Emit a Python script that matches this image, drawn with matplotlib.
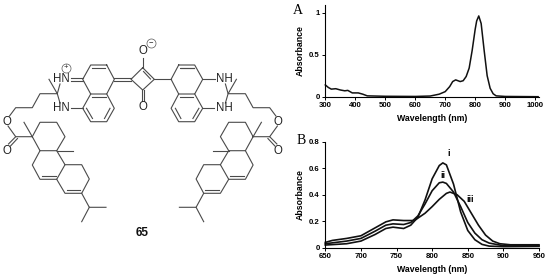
from matplotlib import pyplot as plt

plt.rcParams['font.family'] = ['Liberation Sans', 'DejaVu Sans']
plt.rcParams['lines.solid_joinstyle'] = 'round'

# panel A spectrum
wave_a = [300, 310, 320, 335, 350, 365, 375, 390, 410, 425, 440, 500, 600, 650, 680, 700, 715, 725, 735,
          750, 760, 770, 780, 790, 800, 805, 812, 820, 830, 840, 850, 860, 870, 900, 1010]
abs_a = [0.14, 0.11, 0.09, 0.095, 0.08, 0.07, 0.075, 0.045, 0.045, 0.03, 0.01, 0.005, 0.003, 0.008, 0.03, 0.06, 0.12, 0.18, 0.2,
         0.18, 0.19, 0.24, 0.34, 0.55, 0.8, 0.9, 0.96, 0.87, 0.55, 0.25, 0.1, 0.035, 0.01, 0.003, 0.0]

# panel B spectra
wave_i = [650, 680, 700, 720, 735, 745, 760, 770, 780, 790, 800, 810, 815, 820, 830, 840, 850, 860, 870, 880, 900, 950]
abs_i = [0.02, 0.03, 0.05, 0.10, 0.145, 0.155, 0.145, 0.17, 0.23, 0.36, 0.52, 0.62, 0.64, 0.625, 0.48, 0.27, 0.13, 0.06, 0.025, 0.012, 0.008, 0.01]
wave_ii = [650, 680, 700, 720, 735, 745, 760, 770, 780, 790, 800, 810, 815, 820, 830, 840, 850, 860, 870, 880, 900, 950]
abs_ii = [0.03, 0.05, 0.07, 0.125, 0.17, 0.18, 0.175, 0.19, 0.24, 0.33, 0.43, 0.49, 0.495, 0.485, 0.42, 0.31, 0.19, 0.11, 0.06, 0.035, 0.015, 0.015]
wave_iii = [650, 660, 680, 700, 720, 735, 745, 760, 775, 790, 800, 810, 820, 825, 835, 845, 855, 865, 875, 885, 895, 910, 950]
abs_iii = [0.04, 0.055, 0.07, 0.09, 0.15, 0.195, 0.21, 0.205, 0.205, 0.26, 0.31, 0.365, 0.41, 0.42, 0.40, 0.35, 0.26, 0.17, 0.095, 0.05, 0.03, 0.022, 0.022]

ticks_a_x = [300, 400, 500, 600, 700, 800, 900, 1000]
ticks_a_y = [0, 0.5, 1]
ticks_b_x = [650, 700, 750, 800, 850, 900, 950]
ticks_b_y = [0, 0.2, 0.4, 0.6, 0.8]

# structure 65, image pixels, left half is mirrored for the right one
MIRROR = 285.4
half_chains = [
    [(106.7, 65), (90.7, 65), (82.7, 79.3), (90.7, 94), (106.7, 94), (114.3, 79.3), (106.7, 65)],
    [(90.7, 94), (82.7, 108.3), (90.7, 121.7), (106.7, 121.7), (114.3, 108.3), (106.7, 94)],
    [(82.7, 108.3), (71, 108.3)],
    [(60, 84), (57.3, 93.7), (60, 103)],
    [(49, 79.3), (57.3, 93.7), (40, 93.7), (32.3, 107.7), (15.7, 107.7), (9.5, 116)],
    [(8, 126), (15.7, 136.7), (32.3, 136.7), (24, 122.3)],
    [(32.3, 136.7), (40, 122.3), (56.7, 122.3), (65, 136.7), (56.7, 150.7), (40, 150.7), (32.3, 136.7)],
    [(56.7, 150.7), (72.7, 150.7)],
    [(40, 150.7), (32.3, 165), (40, 179.3), (56.7, 179.3), (65, 164.7), (56.7, 150.7)],
    [(65, 164.7), (81.7, 164.7), (89.3, 179), (81.7, 193.3), (65, 193.3), (56.7, 179.3)],
    [(81.7, 193.3), (89.3, 207.3), (106, 207.3)],
    [(89.3, 207.3), (81.7, 221.7)],
    [(15.7, 136.7), (8.5, 144)],
    [(17.5, 138.5), (10.5, 146)],
    [(91.7, 68.3), (105, 68.3)],
    [(92, 97), (105.5, 97)],
    [(110, 108.3), (104.5, 118.5)],
    [(86.5, 108.3), (92.5, 118.5)],
    [(41.5, 176), (55.5, 176)],
    [(66.5, 190), (80, 190)],
]
left_chains = [
    [(82.7, 78), (71, 78)],
    [(82.7, 80.8), (71, 80.8)],
    [(114.3, 78), (131, 78)],
    [(114.3, 80.8), (131, 80.8)],
]
right_chains = [
    [(154.3, 79.3), (171, 79.3)],
    [(202.7, 79.3), (214.5, 79.3)],
    [(181, 68.3), (193.5, 68.3)],
]
core_chains = [
    [(142.7, 67.7), (154.3, 79.3), (142.7, 90), (131, 79.3), (142.7, 67.7)],
    [(143.5, 71.5), (150.5, 79)],
    [(142.7, 67.7), (142.7, 58)],
    [(141.7, 90), (141.7, 101)],
    [(143.7, 90), (143.7, 101)],
]
atom_labels = [
    ('HN', 61, 79.3), ('HN', 61, 107.7), ('NH', 224.4, 79.3), ('NH', 224.4, 107.7),
    ('O', 142.7, 51), ('O', 142.7, 107.3), ('O', 6.7, 122), ('O', 6.7, 150.7), ('O', 277.8, 122), ('O', 277.8, 150.7),
]
charge_labels = [('+', 65.7, 67.7), ('\u2212', 151, 42.7)]
peak_labels = [('i', 448.3, 154), ('ii', 442.7, 175.7), ('iii', 470, 199.3)]


def pixel_axes(fig, left, top, right, bottom):
    w, h = fig.get_size_inches() * fig.dpi
    return fig.add_axes([left / w, 1 - bottom / h, (right - left) / w, (bottom - top) / h])


def style_panel(ax):
    ax.spines['top'].set_visible(False)
    ax.spines['right'].set_visible(False)
    ax.spines['left'].set_linewidth(0.8)
    ax.spines['bottom'].set_linewidth(0.8)
    ax.tick_params(direction='out', length=2, width=0.7, labelsize=5.6, pad=2)
    ax.set_xlabel('Wavelength (nm)', fontsize=6.3, fontweight='bold', labelpad=3.5)
    ax.set_ylabel('Absorbance', fontsize=6.3, fontweight='bold', labelpad=3)
    for label in ax.get_xticklabels() + ax.get_yticklabels():
        label.set_fontweight('bold')
    ax.patch.set_alpha(0)


def draw_structure(ax):
    for chain in half_chains:
        ax.plot([p[0] for p in chain], [p[1] for p in chain], color='#4a4a4a', lw=0.8)
        ax.plot([MIRROR - p[0] for p in chain], [p[1] for p in chain], color='#4a4a4a', lw=0.8)
    for chain in left_chains + right_chains + core_chains:
        ax.plot([p[0] for p in chain], [p[1] for p in chain], color='#4a4a4a', lw=0.8)
    for text, x, y in atom_labels:
        ax.text(x, y, text, fontsize=8.3, ha='center', va='center', color='#222222')
    for text, x, y in charge_labels:
        ax.text(x, y, text, fontsize=5.5, ha='center', va='center', color='#222222')
        ax.plot([x], [y], marker='o', ms=6.5, mfc='none', mec='#555555', mew=0.5)
    ax.text(142.3, 233.3, '65', fontsize=8.5, fontweight='bold', ha='center', va='center', color='#111111')


def main():
    fig = plt.figure(figsize=(5.5, 2.79), dpi=100)

    base = fig.add_axes([0, 0, 1, 1])
    base.set_xlim(0, 550)
    base.set_ylim(279, 0)
    base.axis('off')
    draw_structure(base)
    base.text(298.3, 10, 'A', fontsize=10, family='Liberation Serif', ha='center', va='center')
    base.text(300.7, 140, 'B', fontsize=10, family='Liberation Serif', ha='center', va='center')
    for text, x, y in peak_labels:
        base.text(x, y, text, fontsize=6.5, fontweight='bold', ha='center', va='center')

    ax_a = pixel_axes(fig, 325.3, 5, 539, 96.7)
    ax_a.plot(wave_a, abs_a, color='#111111', lw=1.1, clip_on=False)
    ax_a.set_xlim(300, 1013)
    ax_a.set_ylim(0, 1.09)
    ax_a.set_xticks(ticks_a_x)
    ax_a.set_yticks(ticks_a_y)
    ax_a.set_yticklabels(['0', '0.5', '1'])
    style_panel(ax_a)

    ax_b = pixel_axes(fig, 325.3, 141.7, 539, 247.7)
    ax_b.plot(wave_i, abs_i, color='#111111', lw=1.2, clip_on=False)
    ax_b.plot(wave_ii, abs_ii, color='#111111', lw=1.2, clip_on=False)
    ax_b.plot(wave_iii, abs_iii, color='#111111', lw=1.2, clip_on=False)
    ax_b.set_xlim(650, 950)
    ax_b.set_ylim(0, 0.8)
    ax_b.set_xticks(ticks_b_x)
    ax_b.set_yticks(ticks_b_y)
    ax_b.set_yticklabels(['0', '0.2', '0.4', '0.6', '0.8'])
    style_panel(ax_b)

    fig.savefig('out.png', dpi=100)


if __name__ == "__main__":
    main()
